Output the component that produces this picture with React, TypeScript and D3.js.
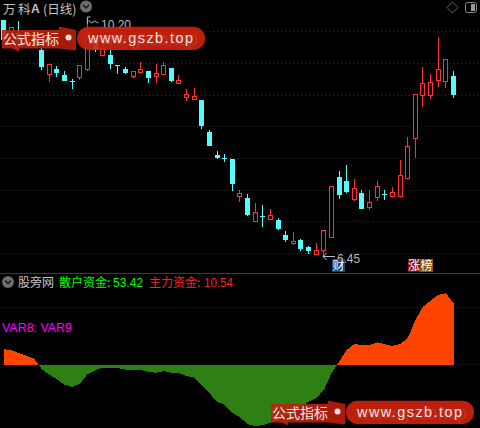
import React from "react";
import * as d3 from "d3";

const opens = [10.18,9.9,9.98,9.83,9.93,9.71,9.33,9.41,9.31,9.22,9.28,9.41,9.87,9.63,9.63,9.47,9.41,9.3,9.36,9.38,9.29,9.33,9.42,9.18,8.96,8.94,8.91,8.41,8.05,8.0,7.99,7.4,7.37,7.0,7.08,7.04,7.02,6.78,6.66,6.7,6.6,6.48,6.55,6.76,7.7,7.64,7.35,7.45,7.23,7.38,7.43,7.4,7.4,7.69,8.32,9.0,9.0,9.24,9.22,9.3];
const highs = [10.18,10.07,10.17,9.98,9.96,9.74,9.49,9.45,9.38,9.25,9.47,10.2,9.9,9.83,9.71,9.47,9.44,9.37,9.52,9.38,9.49,9.52,9.42,9.31,9.09,9.1,8.92,8.44,8.11,8.06,7.99,7.5,7.43,7.29,7.26,7.19,7.05,6.85,6.83,6.72,6.61,6.66,6.86,7.56,7.79,7.89,7.67,7.5,7.5,7.64,7.5,7.54,7.97,8.33,9.01,9.44,9.33,9.91,9.56,9.38];
const lows = [9.83,9.87,9.83,9.77,9.74,9.39,9.2,9.28,9.22,9.09,9.23,9.38,9.68,9.63,9.41,9.33,9.33,9.26,9.36,9.19,9.19,9.32,9.2,9.18,8.9,8.94,8.46,8.19,7.99,7.93,7.48,7.31,7.08,7.0,6.91,7.02,6.86,6.67,6.63,6.53,6.48,6.48,6.45,6.76,7.35,7.45,7.32,7.19,7.18,7.32,7.34,7.38,7.38,7.69,8.0,8.81,8.94,9.12,9.11,8.95];
const closes = [9.87,10.07,9.87,9.96,9.77,9.44,9.49,9.34,9.22,9.2,9.47,9.99,9.71,9.74,9.49,9.46,9.34,9.37,9.4,9.27,9.34,9.47,9.22,9.24,9.01,8.98,8.51,8.19,8.0,7.99,7.59,7.45,7.1,7.14,7.07,7.1,6.88,6.7,6.69,6.56,6.53,6.55,6.86,7.56,7.42,7.46,7.53,7.19,7.3,7.56,7.42,7.46,7.73,8.19,9.01,9.18,9.2,9.4,9.56,9.0];
const fundFlow = [13.5,12.4,10.1,7.7,5.1,-3.9,-8.9,-12.9,-17.7,-19.4,-17,-8.6,-5.1,-2.8,-2.8,-3.1,-4.5,-4.5,-4.8,-6.3,-7.2,-5.7,-7.4,-7.4,-10.1,-11.2,-17.9,-25.2,-32.2,-35.4,-42.1,-46.2,-52,-53.8,-53,-50.9,-48.5,-45.6,-41.3,-36.9,-32.5,-29.3,-22.3,-7.7,2.4,12.7,17.9,17,17,19.4,17.7,16.2,17.9,22.9,38.9,50.5,55.8,60.8,62.2,53.42];
const priceGrid = [6.5,7,7.5,8,8.5,9,9.5,10];
const flowGrid = [0,50];
const retailFund = "53.42";
const mainFund = "10.54";
const highLabel = "10.20";
const lowLabel = "6.45";

const RED = "#ff3232";
const CYAN = "#54fcfc";
const GRID = "#7c0f0f";
const CJK = "'Noto Sans CJK SC', sans-serif";
const LATIN = "'Liberation Sans', Arial, sans-serif";

const x = d3.scaleLinear().domain([0, 59]).range([3.5, 453.5]);
const yP = d3.scaleLinear().domain([6.5, 10]).range([253, 31.45]);
const yV = d3.scaleLinear().domain([0, 50]).range([364.5, 307.3]);

const snap = (v: number) => Math.round(v);

const areaPath = d3
  .area<number>()
  .x((_, i) => x(i))
  .y0(yV(0))
  .y1((d) => yV(d))(fundFlow) as string;

function Circle({ cx, cy }: { cx: number; cy: number }) {
  return (
    <g>
      <circle cx={cx} cy={cy} r={6} fill="#6e6e6e" />
      <path d={`M${cx - 3},${cy - 1.5} L${cx},${cy + 1.5} L${cx + 3},${cy - 1.5}`} fill="none" stroke="#1c1c1c" strokeWidth={1.5} />
    </g>
  );
}

function Banner({ dx, dy }: { dx: number; dy: number }) {
  return (
    <g transform={`translate(${dx},${dy})`}>
      <polygon points="10,47 19,47 19,51.5" fill="#c8200c" opacity={0.92} />
      <rect x={2} y={30} width={57} height={18.5} fill="#bb210d" opacity={0.9} />
      <polygon points="59,26.5 76,30 76,50.5 59,48.5" fill="#b01c0a" opacity={0.95} />
      <circle cx={68.5} cy={37.5} r={3} fill="#f3e3e0" />
      <rect x={77} y={26.7} width={128} height={23.3} rx={11.6} fill="#d2220e" opacity={0.9} />
      <text x={88} y={45} textLength={110} lengthAdjust="spacingAndGlyphs" fontFamily={LATIN} fontSize={18} fill="#fff" opacity={0.08}>www.gszb.top</text>
      <text x={3} y={43.5} fontFamily={CJK} fontSize={14} fill="#f2e6e2">公式指标</text>
      <text x={88} y={43} textLength={105} fontFamily={LATIN} fontSize={14.5} fill="#f2e6e2">www.gszb.top</text>
    </g>
  );
}

export default function App() {
  return (
    <>
      <style>{`html,body{margin:0;padding:0;background:#000}`}</style>
      <svg width={480} height={428} style={{ display: "block", background: "#000" }}>
        {priceGrid.map((p) => (
          <line key={p} x1={1} x2={480} y1={snap(yP(p)) + 0.5} y2={snap(yP(p)) + 0.5} stroke={GRID} strokeDasharray="1 3" shapeRendering="crispEdges" />
        ))}
        {flowGrid.map((v) => (
          <line key={v} x1={1} x2={480} y1={Math.floor(yV(v)) + 0.5} y2={Math.floor(yV(v)) + 0.5} stroke={GRID} strokeDasharray="1 3" shapeRendering="crispEdges" />
        ))}
        <line x1={0} x2={480} y1={273.5} y2={273.5} stroke="#a01010" shapeRendering="crispEdges" />

        {opens.map((o, i) => {
          const c = closes[i];
          const px = Math.floor(x(i));
          const up = c > o;
          const color = up ? RED : CYAN;
          const top = snap(yP(Math.max(o, c)));
          const bot = snap(yP(Math.min(o, c)));
          const hi = snap(yP(highs[i]));
          const lo = snap(yP(lows[i]));
          return (
            <g key={i} shapeRendering="crispEdges">
              <rect x={px} y={hi} width={1} height={Math.max(1, lo - hi)} fill={color} />
              {up ? (
                <rect x={px - 1.5} y={top + 0.5} width={4} height={Math.max(1, bot - top)} fill="#000" stroke={color} />
              ) : (
                <rect x={px - 2} y={top} width={5} height={Math.max(1, bot - top)} fill={color} />
              )}
            </g>
          );
        })}

        <defs>
          <clipPath id="above"><rect x={0} y={274} width={480} height={91} /></clipPath>
          <clipPath id="below"><rect x={0} y={364} width={480} height={64} /></clipPath>
        </defs>
        <path d={areaPath} fill="#2f8014" clipPath="url(#below)" shapeRendering="crispEdges" />
        <path d={areaPath} fill="#ff4400" clipPath="url(#above)" shapeRendering="crispEdges" />

        {/* header */}
        <text x={3} y={13.5} fontFamily={CJK} fontSize={12.5} fill="#c4c4c4">万</text>
        <text x={18} y={13.5} fontFamily={CJK} fontSize={12.5} fill="#c4c4c4">科</text>
        <text x={31} y={13} fontFamily={LATIN} fontSize={12} fontWeight={700} fill="#c4c4c4">A</text>
        <text x={43} y={13.5} fontFamily={CJK} fontSize={12.5} fill="#c4c4c4">(日线)</text>
        <Circle cx={86} cy={6.5} />
        <polygon points="452.5,2 458,7.5 452.5,13 447,7.5" fill="none" stroke="#666" />
        <rect x={465.5} y={2.5} width={11} height={10} rx={2} fill="none" stroke="#8a8a8a" />
        <rect x={471} y={4} width={4} height={7} fill="#9a9a9a" />

        {/* high / low marks */}
        <path d={`M${x(11)},24 L${x(11)},17 L${x(11) + 3},17 M${x(11) + 1},20 L${x(11) + 4},23 L${x(11) + 7},21 L${x(11) + 11},23`} fill="none" stroke="#bbb" />
        <text x={101} y={29} textLength={30} lengthAdjust="spacingAndGlyphs" fontFamily={LATIN} fontSize={13} fill="#bbb">{highLabel}</text>
        <path d={`M${x(42) - 1},256.5 L335,256.5 M${x(42) + 3},253 L${x(42) - 1},256.5 L${x(42) + 3},260`} fill="none" stroke="#bbb" />
        <text x={337} y={263} textLength={23} lengthAdjust="spacingAndGlyphs" fontFamily={LATIN} fontSize={13} fill="#bbb">{lowLabel}</text>

        {/* badges */}
        <rect x={332} y={259} width={13} height={13} fill="#0d4a86" />
        <text x={338.5} y={270} textAnchor="middle" fontFamily={CJK} fontSize={12} fill="#fff">财</text>
        <rect x={408} y={259} width={12} height={13} fill="#8c0c0c" />
        <text x={414} y={270} textAnchor="middle" fontFamily={CJK} fontSize={12} fill="#fff">涨</text>
        <rect x={420} y={259} width={13} height={13} fill="#8c5408" />
        <text x={426.5} y={270} textAnchor="middle" fontFamily={CJK} fontSize={12} fill="#fff">榜</text>

        {/* lower pane header */}
        <Circle cx={8} cy={282} />
        <text x={18} y={287} fontFamily={CJK} fontSize={12} fill="#c4c4c4">股旁网</text>
        <text x={59} y={287} fontFamily={CJK} fontSize={12} fill="#00ff00">散户资金:</text>
        <text x={113} y={287} textLength={30} lengthAdjust="spacingAndGlyphs" fontFamily={LATIN} fontSize={13} fill="#00ff00">{retailFund}</text>
        <text x={149} y={287} fontFamily={CJK} fontSize={12} fill="#ff2020">主力资金:</text>
        <text x={204} y={287} textLength={29} lengthAdjust="spacingAndGlyphs" fontFamily={LATIN} fontSize={13} fill="#ff2020">{mainFund}</text>
        <text x={2} y={332} textLength={70} lengthAdjust="spacingAndGlyphs" fontFamily={LATIN} fontSize={13} fill="#ff00ff">VAR8: VAR9</text>

        <Banner dx={0} dy={0} />
        <Banner dx={269} dy={374} />
      </svg>
    </>
  );
}
